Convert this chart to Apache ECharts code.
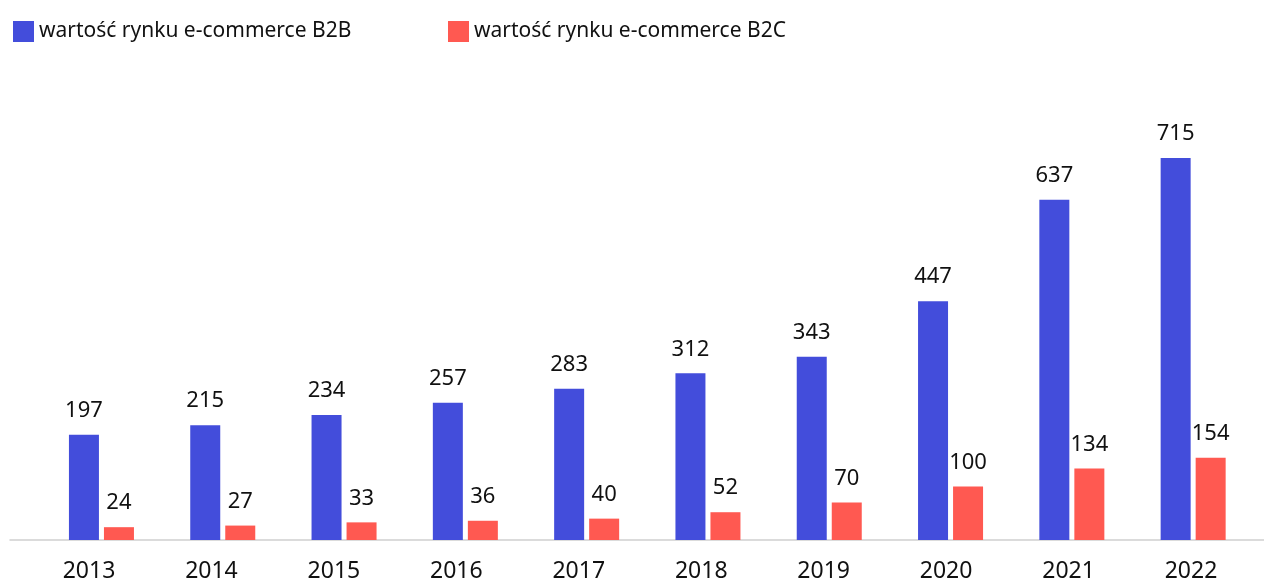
<!DOCTYPE html>
<html>
<head>
<meta charset="utf-8">
<script src="https://cdn.jsdelivr.net/npm/echarts@6/dist/echarts.min.js"></script>
<style>
html,body{margin:0;padding:0;background:#fff;}
#chart{width:1264px;height:583px;}
</style>
</head>
<body>
<div id="chart"></div>
<script>
const years = ['2013','2014','2015','2016','2017','2018','2019','2020','2021','2022'];
const b2b = [197, 215, 234, 257, 283, 312, 343, 447, 637, 715];
const b2c = [24, 27, 33, 36, 40, 52, 70, 100, 134, 154];
const seriesNames = ['wartość rynku e-commerce B2B', 'wartość rynku e-commerce B2C'];

const FONT = '"Noto Sans", sans-serif';
const BLUE = '#434ddb';
const RED = '#ff5951';

const chart = echarts.init(document.getElementById('chart'));
const labelStyle = {show: true, position: 'top', distance: 13, fontSize: 22, fontFamily: FONT, color: '#111'};
chart.setOption({
  animation: false,
  legend: [
    {data: [seriesNames[0]], left: 8, top: 16, itemWidth: 21, itemHeight: 21, itemGap: 10, icon: 'rect',
     textStyle: {fontSize: 21, fontFamily: FONT, color: '#111'}},
    {data: [seriesNames[1]], left: 443, top: 16, itemWidth: 21, itemHeight: 21, itemGap: 10, icon: 'rect',
     textStyle: {fontSize: 21, fontFamily: FONT, color: '#111'}}
  ],
  grid: [
    {left: 40.8, width: 1213, top: 112.6, bottom: 43},
    {left: 27.8, width: 1224.4, top: 112.6, bottom: 43},
    {left: 10, right: 0, top: 112.6, bottom: 43}
  ],
  xAxis: [
    {type: 'category', data: years, gridIndex: 0, axisLine: {show: false}, axisTick: {show: false}, axisLabel: {show: false}},
    {type: 'category', data: years, gridIndex: 1, axisLine: {show: false}, axisTick: {show: false},
     axisLabel: {fontSize: 23, fontFamily: FONT, color: '#111', margin: 20}},
    {type: 'category', data: years, gridIndex: 2, axisLine: {show: true, onZero: false, lineStyle: {color: '#cfcfcf', width: 1.5}}, axisTick: {show: false}, axisLabel: {show: false}}
  ],
  yAxis: [
    {type: 'value', min: 0, max: 800, gridIndex: 0, show: false, splitLine: {show: false}},
    {type: 'value', min: 0, max: 800, gridIndex: 1, show: false, splitLine: {show: false}},
    {type: 'value', min: 0, max: 800, gridIndex: 2, show: false, splitLine: {show: false}}
  ],
  series: [
    {name: seriesNames[0], type: 'bar', data: b2b, barWidth: 30, barGap: '16.7%', itemStyle: {color: BLUE}, label: labelStyle, xAxisIndex: 0, yAxisIndex: 0},
    {name: seriesNames[1], type: 'bar', data: b2c, barWidth: 30, barGap: '16.7%', itemStyle: {color: RED}, label: labelStyle, xAxisIndex: 0, yAxisIndex: 0}
  ]
});
</script>
</body>
</html>
